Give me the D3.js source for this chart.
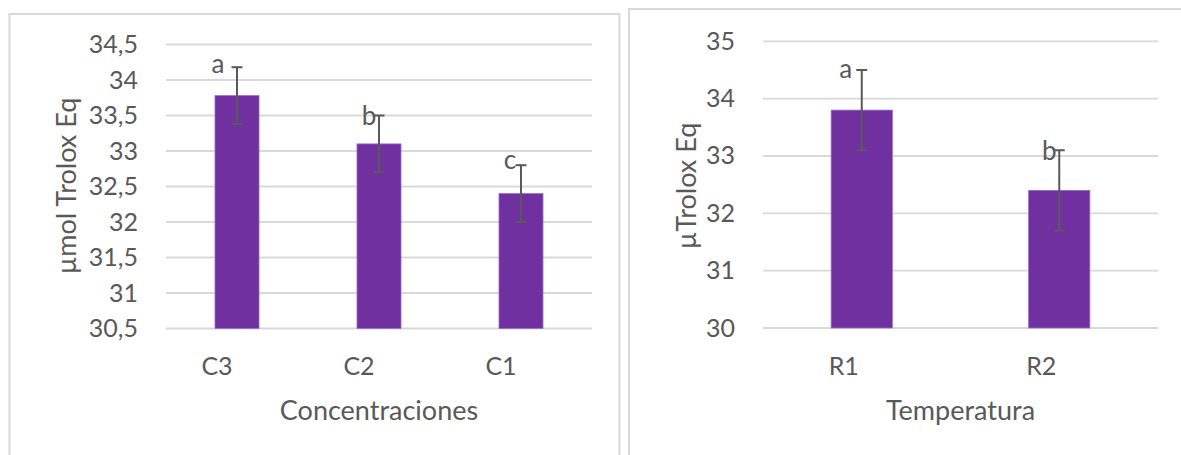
<!DOCTYPE html>
<html>
<head>
<meta charset="utf-8">
<script src="https://cdn.jsdelivr.net/npm/d3@7"></script>
<style>
  html, body { margin: 0; padding: 0; background: #ffffff; }
  svg { display: block; font-family: Lato, "Open Sans", sans-serif; }
</style>
</head>
<body>
<svg id="chart" width="1181" height="455"></svg>
<script>
// Chart 1: antioxidant capacity by concentration
const concCategories = ["C3", "C2", "C1"];
const concValues = [33.78, 33.1, 32.4];
const concErrors = [0.4, 0.4, 0.4];
const concLetters = ["a", "b", "c"];
const concTicks = [30.5, 31, 31.5, 32, 32.5, 33, 33.5, 34, 34.5];

// Chart 2: antioxidant capacity by temperature
const tempCategories = ["R1", "R2"];
const tempValues = [33.8, 32.4];
const tempErrors = [0.7, 0.7];
const tempLetters = ["a", "b"];
const tempTicks = [30, 31, 32, 33, 34, 35];

const svg = d3.select("#chart");
const TEXT = "#595959";
const GRID = "#d9d9d9";
const BAR = "#7030A0";
const fmt = v => String(v).replace(".", ",");

// panel frames
svg.append("rect").attr("x", 9.5).attr("y", 14).attr("width", 610).attr("height", 460)
  .attr("fill", "none").attr("stroke", GRID).attr("stroke-width", 2);
svg.append("rect").attr("x", 629).attr("y", 9).attr("width", 600).attr("height", 460)
  .attr("fill", "none").attr("stroke", GRID).attr("stroke-width", 2);

function drawPanel(cfg) {
  const g = svg.append("g");
  const x = d3.scaleBand().domain(cfg.categories).range([cfg.left, cfg.right])
    .paddingInner(0.69).paddingOuter(0.345);
  const y = d3.scaleLinear().domain([cfg.ticks[0], cfg.ticks[cfg.ticks.length - 1]])
    .range([cfg.bottom, cfg.top]);

  // gridlines
  g.append("g").selectAll("line").data(cfg.ticks).join("line")
    .attr("x1", cfg.left).attr("x2", cfg.right)
    .attr("y1", d => y(d)).attr("y2", d => y(d))
    .attr("stroke", GRID).attr("stroke-width", 1.8);

  // y axis labels
  const yAxis = d3.axisLeft(y).tickValues(cfg.ticks).tickFormat(fmt).tickSize(0).tickPadding(28);
  const ya = g.append("g").attr("transform", `translate(${cfg.left},0)`).call(yAxis);
  ya.select(".domain").remove();
  ya.selectAll("text").attr("fill", TEXT).attr("font-size", 25).attr("font-family", "Lato");

  // x axis labels
  const xAxis = d3.axisBottom(x).tickSize(0).tickPadding(0);
  const xa = g.append("g").attr("transform", `translate(0,${cfg.bottom})`).call(xAxis);
  xa.select(".domain").remove();
  xa.selectAll("text").attr("fill", TEXT).attr("font-size", 25).attr("font-family", "Lato")
    .attr("dy", null).attr("y", 375 - cfg.bottom).attr("dx", cfg.tickShift);

  const rows = cfg.categories.map((c, i) => ({ c, v: cfg.values[i], e: cfg.errors[i], l: cfg.letters[i], i }));

  // bars
  g.append("g").selectAll("rect").data(rows).join("rect")
    .attr("x", d => x(d.c)).attr("width", x.bandwidth())
    .attr("y", d => y(d.v)).attr("height", d => y(cfg.ticks[0]) - y(d.v))
    .attr("fill", BAR).attr("stroke", "#9b6cc3").attr("stroke-width", 0.8);

  // error bars
  const cx = d => x(d.c) + x.bandwidth() / 2;
  const eb = g.append("g").attr("stroke", TEXT).attr("stroke-width", 2);
  eb.selectAll("line.v").data(rows).join("line").attr("class", "v")
    .attr("x1", cx).attr("x2", cx).attr("y1", d => y(d.v + d.e)).attr("y2", d => y(d.v - d.e));
  eb.selectAll("line.t").data(rows).join("line").attr("class", "t")
    .attr("x1", d => cx(d) - 5.5).attr("x2", d => cx(d) + 5.5)
    .attr("y1", d => y(d.v + d.e)).attr("y2", d => y(d.v + d.e));
  eb.selectAll("line.b").data(rows).join("line").attr("class", "b")
    .attr("x1", d => cx(d) - 5.5).attr("x2", d => cx(d) + 5.5)
    .attr("y1", d => y(d.v - d.e)).attr("y2", d => y(d.v - d.e));

  // significance letters beside the upper caps
  g.append("g").selectAll("text").data(rows).join("text")
    .attr("x", d => cx(d) + cfg.letterShift[d.i])
    .attr("y", d => y(d.v + d.e) + cfg.letterDrop[d.i])
    .attr("text-anchor", "middle").attr("fill", TEXT)
    .attr("font-size", 26).attr("font-family", "Lato")
    .text(d => d.l);

  // axis titles
  g.append("text").attr("x", (cfg.left + cfg.right) / 2).attr("y", 420)
    .attr("text-anchor", "middle").attr("fill", TEXT).attr("font-size", 27).attr("font-family", "Lato")
    .text(cfg.xTitle);
  g.append("text").attr("transform", `translate(${cfg.yTitleX},186) rotate(-90)`)
    .attr("text-anchor", "middle").attr("dominant-baseline", "central")
    .attr("fill", TEXT).attr("font-size", 27).attr("font-family", "Lato")
    .text(cfg.yTitle);
}

drawPanel({
  categories: concCategories, values: concValues, errors: concErrors,
  letters: concLetters, ticks: concTicks,
  left: 166, right: 592, top: 44.5, bottom: 328.5,
  tickShift: -20, letterShift: [-19, -10, -11], letterDrop: [6, 9, 4],
  xTitle: "Concentraciones", yTitle: "µmol Trolox Eq", yTitleX: 65
});

drawPanel({
  categories: tempCategories, values: tempValues, errors: tempErrors,
  letters: tempLetters, ticks: tempTicks,
  left: 763, right: 1158, top: 41.3, bottom: 328,
  tickShift: -18, letterShift: [-16, -10], letterDrop: [8, 10],
  xTitle: "Temperatura", yTitle: "µTrolox Eq", yTitleX: 685
});
</script>
</body>
</html>
